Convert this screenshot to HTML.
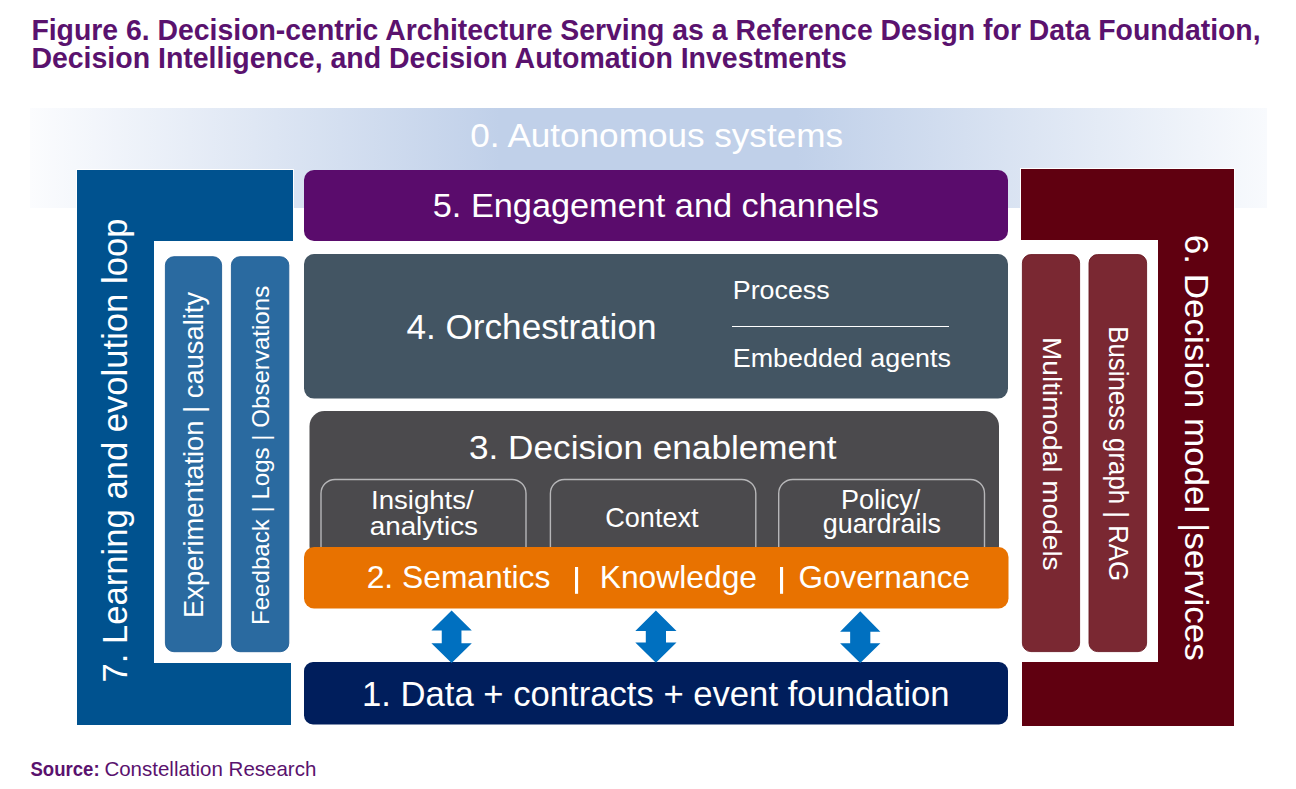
<!DOCTYPE html>
<html><head><meta charset="utf-8"><title>Decision-centric Architecture</title>
<style>
html,body{margin:0;padding:0;background:#ffffff;}
body{width:1296px;height:789px;overflow:hidden;}
svg{display:block;font-family:"Liberation Sans", sans-serif;}
</style></head><body>
<svg width="1296" height="789" viewBox="0 0 1296 789">
<defs><linearGradient id="band" x1="0" y1="0" x2="1" y2="0"><stop offset="0" stop-color="#fbfcfe"/><stop offset="0.38" stop-color="#c0d0e9"/><stop offset="0.62" stop-color="#c0d0e9"/><stop offset="1" stop-color="#f8fafd"/></linearGradient></defs>
<rect x="30" y="108" width="1237" height="100" fill="url(#band)"/>
<path d="M77 170 H293 V241 H154 V663 H291 V725 H77 Z" fill="#00528f" stroke="#ffffff" stroke-width="2" paint-order="stroke"/>
<rect x="165.4" y="256.7" width="56.2" height="395" rx="8.5" fill="#2a6aa0" stroke="#1f5c94" stroke-width="0.9"/>
<rect x="231.4" y="256.7" width="57.4" height="395" rx="8.5" fill="#2a6aa0" stroke="#1f5c94" stroke-width="0.9"/>
<path d="M1021 169 H1234 V726 H1022 V662 H1158 V240 H1021 Z" fill="#600010" stroke="#ffffff" stroke-width="2" paint-order="stroke"/>
<rect x="1022.4" y="254.6" width="57.2" height="397" rx="8.5" fill="#7a2832" stroke="#6a1822" stroke-width="0.9"/>
<rect x="1089" y="254.6" width="57.6" height="397" rx="8.5" fill="#7a2832" stroke="#6a1822" stroke-width="0.9"/>
<rect x="304" y="170" width="704" height="71" rx="10" fill="#5a0c6c"/>
<rect x="304" y="254" width="704" height="144.6" rx="10" fill="#435563"/>
<line x1="732" y1="326.5" x2="949" y2="326.5" stroke="#ffffff" stroke-width="1.1"/>
<rect x="309.5" y="411" width="689.5" height="150" rx="15" fill="#4b4a4d"/>
<rect x="321.0" y="479.5" width="205.0" height="90" rx="14" fill="none" stroke="#b6b6b8" stroke-width="1.4"/>
<rect x="550.4" y="479.5" width="205.4" height="90" rx="14" fill="none" stroke="#b6b6b8" stroke-width="1.4"/>
<rect x="778.7" y="479.5" width="205.8" height="90" rx="14" fill="none" stroke="#b6b6b8" stroke-width="1.4"/>
<rect x="304" y="547" width="704.5" height="61.4" rx="10" fill="#e87200"/>
<rect x="304" y="662" width="704" height="62.5" rx="9" fill="#001e5c"/>
<rect x="575" y="567" width="3.1" height="26.8" fill="#ffffff"/>
<rect x="780" y="567" width="3.1" height="26.8" fill="#ffffff"/>
<polygon fill="#0070c0" points="451.60,610.50 471.80,630.60 461.45,630.60 461.45,643.20 471.80,643.20 451.60,663.00 431.40,643.20 441.75,643.20 441.75,630.60 431.40,630.60"/>
<polygon fill="#0070c0" points="655.90,610.60 676.50,631.00 666.00,631.00 666.00,642.40 676.50,642.40 655.90,662.80 635.30,642.40 645.80,642.40 645.80,631.00 635.30,631.00"/>
<polygon fill="#0070c0" points="860.25,611.30 880.40,631.70 870.35,631.70 870.35,643.20 880.40,643.20 860.25,663.00 840.10,643.20 850.15,643.20 850.15,631.70 840.10,631.70"/>
<text id="t1" x="31.39" y="39.80" font-size="29.86" font-weight="bold" fill="#5a126e" textLength="1229.22" lengthAdjust="spacingAndGlyphs">Figure 6. Decision-centric Architecture Serving as a Reference Design for Data Foundation,</text>
<text id="t2" x="31.39" y="67.50" font-size="29.86" font-weight="bold" fill="#5a126e" textLength="815.51" lengthAdjust="spacingAndGlyphs">Decision Intelligence, and Decision Automation Investments</text>
<text id="a0" x="470.29" y="147.30" font-size="33.49" font-weight="normal" fill="#ffffff" textLength="372.72" lengthAdjust="spacingAndGlyphs">0. Autonomous systems</text>
<text id="a5" x="432.79" y="217.10" font-size="33.77" font-weight="normal" fill="#ffffff" textLength="446.02" lengthAdjust="spacingAndGlyphs">5. Engagement and channels</text>
<text id="a4" x="406.38" y="339.00" font-size="35.90" font-weight="normal" fill="#ffffff" textLength="250.15" lengthAdjust="spacingAndGlyphs">4. Orchestration</text>
<text id="proc" x="732.73" y="299.40" font-size="25.94" font-weight="normal" fill="#ffffff" textLength="96.99" lengthAdjust="spacingAndGlyphs">Process</text>
<text id="emb" x="732.76" y="366.80" font-size="26.16" font-weight="normal" fill="#ffffff" textLength="218.25" lengthAdjust="spacingAndGlyphs">Embedded agents</text>
<text id="a3" x="469.00" y="458.70" font-size="33.58" font-weight="normal" fill="#ffffff" textLength="367.51" lengthAdjust="spacingAndGlyphs">3. Decision enablement</text>
<text id="ins" x="370.97" y="508.90" font-size="25.58" font-weight="normal" fill="#ffffff" textLength="102.76" lengthAdjust="spacingAndGlyphs">Insights/</text>
<text id="ana" x="369.67" y="534.60" font-size="25.58" font-weight="normal" fill="#ffffff" textLength="108.34" lengthAdjust="spacingAndGlyphs">analytics</text>
<text id="ctx" x="605.26" y="527.10" font-size="26.89" font-weight="normal" fill="#ffffff" textLength="93.29" lengthAdjust="spacingAndGlyphs">Context</text>
<text id="pol" x="840.96" y="509.30" font-size="26.89" font-weight="normal" fill="#ffffff" textLength="79.36" lengthAdjust="spacingAndGlyphs">Policy/</text>
<text id="gua" x="822.67" y="533.30" font-size="26.89" font-weight="normal" fill="#ffffff" textLength="118.34" lengthAdjust="spacingAndGlyphs">guardrails</text>
<text id="sem" x="366.66" y="588.10" font-size="31.10" font-weight="normal" fill="#ffffff" textLength="183.76" lengthAdjust="spacingAndGlyphs">2. Semantics</text>
<text id="kno" x="599.73" y="588.10" font-size="31.10" font-weight="normal" fill="#ffffff" textLength="157.29" lengthAdjust="spacingAndGlyphs">Knowledge</text>
<text id="gov" x="798.57" y="588.10" font-size="31.10" font-weight="normal" fill="#ffffff" textLength="171.56" lengthAdjust="spacingAndGlyphs">Governance</text>
<text id="a1" x="361.97" y="706.30" font-size="34.59" font-weight="normal" fill="#ffffff" textLength="587.54" lengthAdjust="spacingAndGlyphs">1. Data + contracts + event foundation</text>
<text id="src1" x="30.45" y="775.60" font-size="20.78" font-weight="bold" fill="#5a126e" textLength="69.14" lengthAdjust="spacingAndGlyphs">Source:</text>
<text id="src2" x="104.38" y="775.60" font-size="20.78" font-weight="normal" fill="#5a126e" textLength="211.95" lengthAdjust="spacingAndGlyphs">Constellation Research</text>
<text id="v7" x="0" y="0" transform="translate(127.00 682.42) rotate(-90)" font-size="35.00" fill="#ffffff" textLength="463.84" lengthAdjust="spacingAndGlyphs">7. Learning and evolution loop</text>
<text id="vexp" x="0" y="0" transform="translate(203.20 618.01) rotate(-90)" font-size="26.90" fill="#ffffff" textLength="326.12" lengthAdjust="spacingAndGlyphs">Experimentation | causality</text>
<text id="vfb" x="0" y="0" transform="translate(269.10 625.01) rotate(-90)" font-size="24.50" fill="#ffffff" textLength="339.22" lengthAdjust="spacingAndGlyphs">Feedback | Logs | Observations</text>
<text id="vmm" x="0" y="0" transform="translate(1042.70 336.97) rotate(90)" font-size="26.50" fill="#ffffff" textLength="233.66" lengthAdjust="spacingAndGlyphs">Multimodal models</text>
<text id="vbg" x="0" y="0" transform="translate(1109.10 326.17) rotate(90)" font-size="26.75" fill="#ffffff" textLength="254.96" lengthAdjust="spacingAndGlyphs">Business graph | RAG</text>
<text id="v6" x="0" y="0" transform="translate(1185.30 234.78) rotate(90)" font-size="33.60" fill="#ffffff" textLength="425.93" lengthAdjust="spacingAndGlyphs">6. Decision model |services</text>
</svg>
</body></html>
